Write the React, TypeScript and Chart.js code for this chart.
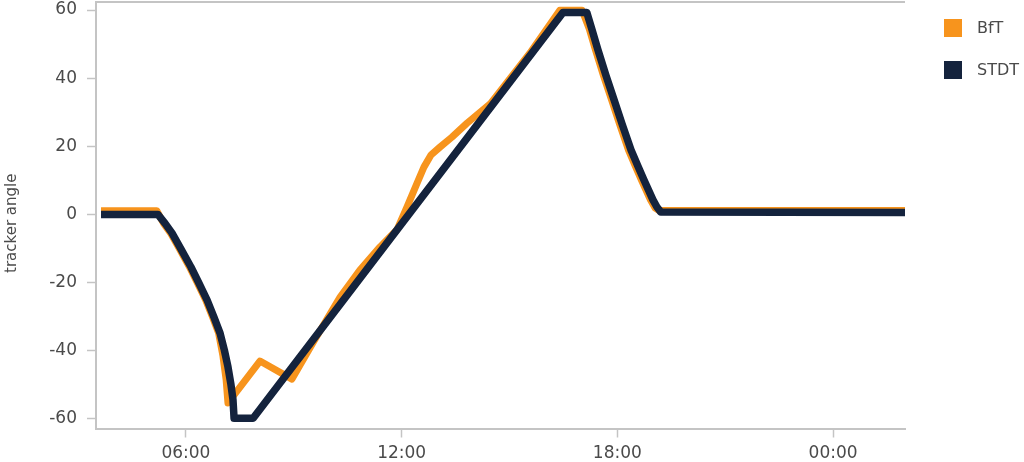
import React, { useEffect, useRef } from "react";
import { Chart, registerables } from "chart.js";

Chart.register(...registerables);

// ---- data (hour of day, tracker angle in degrees) ----
const bftHours = [
  3.64, 5.19, 5.38, 5.57, 5.82, 6.1, 6.32, 6.55, 6.74, 6.91, 7.03, 7.12, 7.17,
  8.06, 8.95, 9.53, 10.29, 10.84, 11.4, 11.87, 12.15, 12.43, 12.62, 12.82, 13.07, 13.4, 13.82, 14.46, 15.57,
  16.4, 17.02, 17.22, 17.39, 17.61, 17.84, 18.06, 18.31, 18.5, 18.67, 18.92, 19.05, 19.16, 26,
];
const bftAngle = [
  1.1, 1.1, -2.6, -5.4, -10.1, -15.4, -20.1, -25.1, -30.1, -34.8, -41.5, -48.6, -55.3,
  -43.0, -48.3, -37.7, -24.2, -16.3, -9.5, -4.5, 2.2, 9.2, 13.9, 17.5, 19.8, 22.7, 26.8, 32.4, 47.4,
  59.9, 59.9, 54.4, 48.3, 40.9, 33.6, 26.6, 18.9, 14.2, 10.1, 4.3, 1.9, 1.2, 1.2,
];

const stdtHours = [
  3.64, 5.22, 5.42, 5.61, 5.86, 6.14, 6.36, 6.59, 6.78, 6.95, 7.07, 7.17, 7.25, 7.31, 7.34,
  7.87, 16.49, 17.15, 17.29, 17.46, 17.68, 17.91, 18.13, 18.38, 18.57, 18.74, 18.99, 19.1, 19.21, 26,
];
const stdtAngle = [
  0, 0, -2.6, -5.4, -10.1, -15.4, -20.1, -25.1, -30.1, -34.8, -39.8, -44.7, -49.7, -54.4, -59.8,
  -59.8, 59.3, 59.3, 54.4, 48.3, 40.9, 33.6, 26.6, 18.9, 14.2, 10.1, 4.3, 2.2, 0.7, 0.6,
];

const seriesLabels = ["BfT", "STDT"];
const seriesColors = ["#F7941D", "#14233D"];

const xTickHours = [6, 12, 18, 24];
const xTickLabels = ["06:00", "12:00", "18:00", "00:00"];
const yTickValues = [-60, -40, -20, 0, 20, 40, 60];
const yTitle = "tracker angle";

const FONT = '"DejaVu Sans", sans-serif';
const AXIS_GREY = "#c4c4c4";
const TEXT_GREY = "#4a4a4a";

const topBorderPlugin = {
  id: "topBorder",
  beforeDatasetsDraw(chart: any) {
    const { ctx, chartArea } = chart;
    ctx.save();
    ctx.strokeStyle = AXIS_GREY;
    ctx.lineWidth = 2;
    ctx.beginPath();
    ctx.moveTo(chartArea.left, chartArea.top);
    ctx.lineTo(chartArea.right, chartArea.top);
    ctx.stroke();
    ctx.restore();
  },
};

const yTitlePlugin = {
  id: "yTitle",
  afterDraw(chart: any) {
    const { ctx, chartArea } = chart;
    ctx.save();
    ctx.translate(12, (chartArea.top + chartArea.bottom) / 2 + 8);
    ctx.rotate(-Math.PI / 2);
    ctx.fillStyle = TEXT_GREY;
    ctx.font = "15px " + FONT;
    ctx.textAlign = "center";
    ctx.textBaseline = "middle";
    ctx.fillText(yTitle, 0, 0);
    ctx.restore();
  },
};

const legendPlugin = {
  id: "sideLegend",
  afterDraw(chart: any) {
    const { ctx, chartArea } = chart;
    ctx.save();
    const order = [...chart.data.datasets].sort((a: any, b: any) => seriesLabels.indexOf(a.label) - seriesLabels.indexOf(b.label));
    order.forEach((ds: any, i: number) => {
      const bx = chartArea.right + 39;
      const by = 19 + i * 42;
      ctx.fillStyle = ds.borderColor;
      ctx.fillRect(bx, by, 18, 18);
      ctx.fillStyle = TEXT_GREY;
      ctx.font = "16px " + FONT;
      ctx.textBaseline = "middle";
      ctx.textAlign = "left";
      ctx.fillText(ds.label, bx + 33, by + 9.5);
    });
    ctx.restore();
  },
};

export default function App() {
  const canvasRef = useRef<HTMLCanvasElement | null>(null);

  useEffect(() => {
    if (!canvasRef.current) return;
    const bft = bftHours.map((h, i) => ({ x: h, y: bftAngle[i] }));
    const stdt = stdtHours.map((h, i) => ({ x: h, y: stdtAngle[i] }));
    const chart = new Chart(canvasRef.current, {
      type: "line",
      data: {
        datasets: [
          {
            label: seriesLabels[0],
            data: bft,
            borderColor: seriesColors[0],
            backgroundColor: seriesColors[0],
            borderWidth: 7,
            pointRadius: 0,
            tension: 0,
            borderJoinStyle: "round",
            order: 2,
          },
          {
            label: seriesLabels[1],
            data: stdt,
            borderColor: seriesColors[1],
            backgroundColor: seriesColors[1],
            borderWidth: 7.5,
            pointRadius: 0,
            tension: 0,
            borderJoinStyle: "round",
            order: 1,
          },
        ],
      },
      options: {
        responsive: false,
        animation: false,
        layout: { padding: { top: 2, right: 119, left: 0, bottom: 0 } },
        plugins: {
          legend: { display: false },
          tooltip: { enabled: false },
        },
        scales: {
          x: {
            type: "linear",
            min: 3.5,
            max: 26,
            afterBuildTicks: (scale: any) => {
              scale.ticks = xTickHours.map((v) => ({ value: v }));
            },
            afterFit: (scale: any) => {
              scale.height = 33.5;
              scale.paddingLeft = 0;
              scale.paddingRight = 0;
            },
            ticks: {
              autoSkip: false,
              maxRotation: 0,
              padding: 6,
              color: TEXT_GREY,
              font: { family: FONT, size: 17 },
              callback: (v: any) => {
                const idx = xTickHours.indexOf(Number(v));
                return idx >= 0 ? xTickLabels[idx] : "";
              },
            },
            grid: {
              drawOnChartArea: false,
              drawTicks: true,
              tickLength: 9,
              tickWidth: 1.5,
              tickColor: AXIS_GREY,
            },
            border: { display: true, color: AXIS_GREY, width: 2 },
          },
          y: {
            type: "linear",
            min: -62.8,
            max: 62.35,
            afterBuildTicks: (scale: any) => {
              scale.ticks = yTickValues.map((v) => ({ value: v }));
            },
            afterFit: (scale: any) => {
              scale.width = 96;
              scale.paddingTop = 0;
              scale.paddingBottom = 0;
            },
            ticks: {
              padding: 10,
              color: TEXT_GREY,
              font: { family: FONT, size: 17 },
            },
            grid: {
              drawOnChartArea: false,
              drawTicks: true,
              tickLength: 9,
              tickWidth: 1.5,
              tickColor: AXIS_GREY,
            },
            border: { display: true, color: AXIS_GREY, width: 2 },
            title: { display: false },
          },
        },
      },
      plugins: [topBorderPlugin, yTitlePlugin, legendPlugin],
    } as any);
    return () => chart.destroy();
  }, []);

  return (
    <div style={{ position: "fixed", left: 0, top: 0, width: 1024, height: 462, background: "#fff" }}>
      <canvas ref={canvasRef} width={1024} height={462} style={{ display: "block" }} />
    </div>
  );
}
